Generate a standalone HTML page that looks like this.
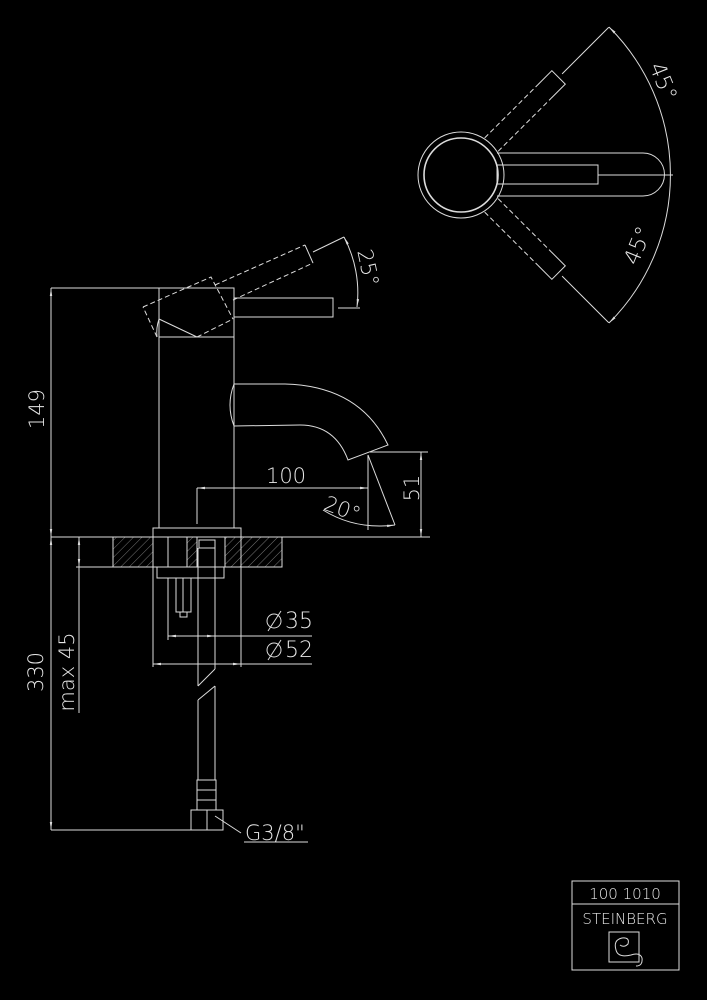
<!DOCTYPE html>
<html><head><meta charset="utf-8"><style>
html,body{margin:0;padding:0;background:#000;}
svg{display:block}
text{font-family:"DejaVu Sans","Liberation Sans",sans-serif;fill:#e6e6e6;font-weight:300}
</style></head><body>
<svg width="707" height="1000" viewBox="0 0 707 1000" xmlns="http://www.w3.org/2000/svg">
<defs>
<pattern id="h" patternUnits="userSpaceOnUse" width="6" height="6" patternTransform="rotate(45)">
<line x1="0" y1="0" x2="0" y2="6" stroke="#777" stroke-width="1"/>
</pattern>
<marker id="a" viewBox="0 0 10 10" refX="10" refY="5" markerWidth="8" markerHeight="8" orient="auto-start-reverse"><path d="M0,3.5 L10,5 L0,6.5z" fill="#ddd"/></marker>
</defs>
<rect width="707" height="1000" fill="#000"/>
<g stroke="#dcdcdc" stroke-width="1" fill="none">
<line x1="51" y1="288" x2="160" y2="288"/>
<line x1="51" y1="288" x2="51" y2="537" marker-start="url(#a)" marker-end="url(#a)"/>
<line x1="51" y1="537" x2="51" y2="830" marker-start="url(#a)" marker-end="url(#a)"/>
<line x1="51" y1="537" x2="430" y2="537"/>
<line x1="51" y1="830" x2="192" y2="830"/>
<line x1="79" y1="537" x2="79" y2="567" marker-start="url(#a)" marker-end="url(#a)"/>
<line x1="76" y1="567" x2="113" y2="567"/>
<line x1="79" y1="567" x2="79" y2="713"/>
<rect x="159" y="288" width="75" height="49"/>
<line x1="159" y1="337" x2="159" y2="528"/>
<line x1="234" y1="337" x2="234" y2="528"/>
<rect x="153" y="528" width="88" height="9"/>
<path d="M159,319 L197,337 M159,319 Q156,328 157,337"/>
<rect x="234" y="298" width="99" height="19"/>
<g stroke-dasharray="5,3">
<path d="M143,307 L211,277 L233,319 M157,337 L143,307"/>
<path d="M215,285 L305,245 M233,300 L313,263"/>
<path d="M197,337 L233,319"/>
</g>
<line x1="305" y1="245" x2="313" y2="263"/>
<line x1="313" y1="252" x2="344" y2="237"/>
<line x1="338" y1="308" x2="360" y2="308"/>
<path d="M344,237 A120,120 0 0 1 357,307" marker-start="url(#a)" marker-end="url(#a)"/>
<path d="M234,384 L285,384 Q360,386 388,445 L348,460 Q335,425 300,425 L234,426 Q226,405 234,384"/>
<line x1="197" y1="488" x2="368" y2="488" marker-start="url(#a)" marker-end="url(#a)"/>
<line x1="197" y1="488" x2="197" y2="524"/>
<line x1="368" y1="455" x2="368" y2="530"/>
<line x1="368" y1="455" x2="395" y2="525"/>
<path d="M323,510 Q355,530 395,525" marker-end="url(#a)"/>
<line x1="370" y1="452" x2="428" y2="452"/>
<line x1="421" y1="452" x2="421" y2="537" marker-start="url(#a)" marker-end="url(#a)"/>
<rect x="113" y="537" width="169" height="30" fill="url(#h)"/>
<rect x="153" y="537" width="34" height="30" fill="#000"/>
<rect x="197" y="537" width="28" height="30" fill="#000"/>
<line x1="153" y1="537" x2="153" y2="567"/><line x1="241" y1="537" x2="241" y2="567"/>
<line x1="168" y1="537" x2="168" y2="567"/><line x1="187" y1="537" x2="187" y2="567"/>
<rect x="199" y="540" width="16" height="8"/>
<rect x="157" y="567" width="67" height="11"/>
<line x1="153" y1="567" x2="153" y2="667"/><line x1="241" y1="567" x2="241" y2="667"/>
<line x1="168" y1="578" x2="168" y2="640"/><line x1="215" y1="578" x2="215" y2="640"/>
<rect x="176" y="578" width="15" height="34"/>
<line x1="183" y1="578" x2="183" y2="612"/>
<rect x="180" y="612" width="7" height="5"/>
<line x1="168" y1="636" x2="215" y2="636" marker-start="url(#a)" marker-end="url(#a)"/>
<line x1="215" y1="636" x2="312" y2="636"/>
<line x1="153" y1="664" x2="241" y2="664" marker-start="url(#a)" marker-end="url(#a)"/>
<line x1="241" y1="664" x2="312" y2="664"/>
<circle cx="274" cy="621" r="7"/><line x1="268" y1="631" x2="281" y2="611"/>
<circle cx="274" cy="650" r="7"/><line x1="268" y1="660" x2="281" y2="640"/>
<line x1="198" y1="548" x2="198" y2="686"/>
<line x1="215" y1="548" x2="215" y2="669"/>
<line x1="198" y1="686" x2="215" y2="669"/>
<line x1="198" y1="700" x2="215" y2="686"/>
<line x1="198" y1="700" x2="198" y2="780"/>
<line x1="215" y1="686" x2="215" y2="780"/>
<rect x="197" y="780" width="19" height="30"/>
<line x1="197" y1="790" x2="216" y2="790"/><line x1="197" y1="800" x2="216" y2="800"/>
<rect x="191" y="810" width="32" height="20"/>
<line x1="207" y1="810" x2="207" y2="830"/>
<line x1="215" y1="816" x2="241" y2="833"/>
<line x1="244" y1="842" x2="308" y2="842"/>
<circle cx="461" cy="175" r="43"/>
<circle cx="461" cy="175" r="37" stroke-width="1.6"/>
<path d="M497,153 L643,153 A21.5,21.5 0 0 1 643,196 L497,196"/>
<rect x="497" y="165" width="101" height="19"/>
<line x1="598" y1="175" x2="673" y2="175"/>
<path d="M609,27 A209,209 0 0 1 609,323" marker-start="url(#a)" marker-end="url(#a)"/>
<g transform="translate(461,175) rotate(-45)">
<path d="M43,-9.5 L118,-9.5 M43,9.5 L118,9.5" stroke-dasharray="5,3"/>
<path d="M118,-9.5 L138,-9.5 L138,9.5 L118,9.5"/>
<line x1="143" y1="0" x2="209" y2="0"/>
</g>
<g transform="translate(461,175) rotate(45)">
<path d="M43,-9.5 L118,-9.5 M43,9.5 L118,9.5" stroke-dasharray="5,3"/>
<path d="M118,-9.5 L138,-9.5 L138,9.5 L118,9.5"/>
<line x1="143" y1="0" x2="209" y2="0"/>
</g>
<rect x="572" y="881" width="107" height="89"/>
<line x1="572" y1="904" x2="679" y2="904"/>
<rect x="609" y="932" width="30" height="30"/>
<path d="M631,955 Q618,958 616,950 Q613,940 622,938 Q630,937 628,944 Q624,948 620,945 M631,955 Q640,952 642,958 Q643,966 636,966"/>
</g>
<text x="38" y="409" font-size="21" text-anchor="middle" transform="rotate(-90 38 409)" dominant-baseline="middle">149</text>
<text x="37" y="672" font-size="21" text-anchor="middle" transform="rotate(-90 37 672)" dominant-baseline="middle">330</text>
<text x="68" y="672" font-size="21" text-anchor="middle" transform="rotate(-90 68 672)" dominant-baseline="middle">max 45</text>
<text x="286" y="483" font-size="21" text-anchor="middle">100</text>
<text x="413" y="488" font-size="21" text-anchor="middle" transform="rotate(-90 413 488)" dominant-baseline="middle">51</text>
<text x="342" y="510" font-size="21" text-anchor="middle" transform="rotate(20 342 510)" dominant-baseline="middle">20°</text>
<text x="367" y="268" font-size="21" text-anchor="middle" transform="rotate(78 367 268)" dominant-baseline="middle">25°</text>
<text x="662" y="82" font-size="22" text-anchor="middle" transform="rotate(68 662 82)" dominant-baseline="middle">45°</text>
<text x="639" y="246" font-size="22" text-anchor="middle" transform="rotate(-68 639 246)" dominant-baseline="middle">45°</text>
<text x="285" y="628" font-size="22">35</text>
<text x="285" y="657" font-size="22">52</text>
<text x="245" y="840" font-size="21">G3/8"</text>
<text x="625" y="899" font-size="15" text-anchor="middle">100 1010</text>
<text x="625" y="924" font-size="15" text-anchor="middle">STEINBERG</text>
</svg>
</body></html>
